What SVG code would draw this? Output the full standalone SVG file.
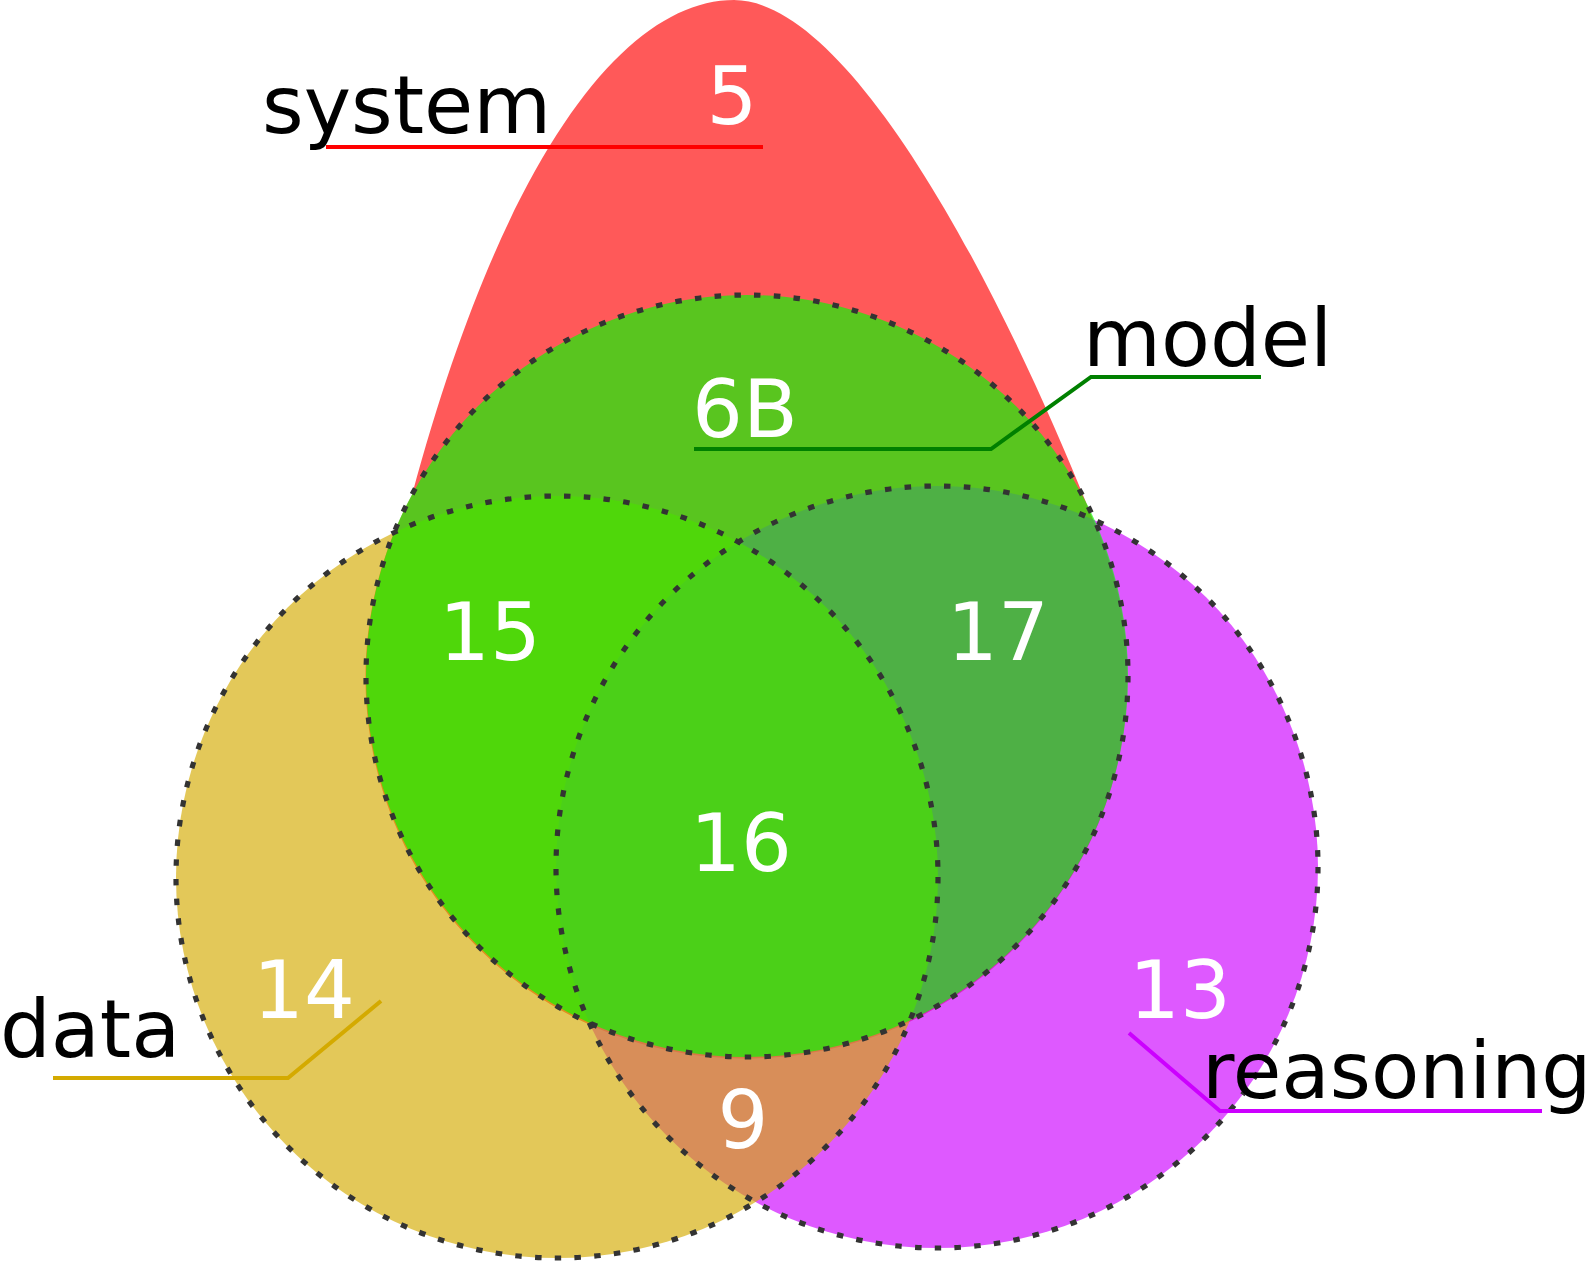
<svg xmlns="http://www.w3.org/2000/svg" width="1594" height="1262" viewBox="0 0 1594 1262">
<style>
.fill { stroke: none; opacity: 0.65; }
.outline { fill: none; stroke: #333333; stroke-width: 5.2; stroke-dasharray: 6.5 13.3; }
.label { font-family: "DejaVu Sans", Verdana, sans-serif; font-size: 80px; fill: #000000; }
.count { font-family: "DejaVu Sans", Verdana, sans-serif; font-size: 80px; fill: #ffffff; text-anchor: middle; }
.leader { fill: none; stroke-width: 4; stroke-linejoin: miter; }
</style>
<rect width="1594" height="1262" fill="#ffffff"/>
<g id="system-set">
  <path class="fill" fill="#ff0000" d="M412,495 C505,150 627,0 734,0 C844,0 988,257 1092,517 A381,381 0 1 1 412,495 Z"/>
</g>
<g id="reasoning-set">
  <circle class="fill" fill="#cc00ff" cx="937" cy="867" r="381"/>
</g>
<g id="data-set">
  <circle class="fill" fill="#d4aa00" cx="557" cy="877" r="381"/>
</g>
<g id="model-set">
  <circle class="fill" fill="#00ff00" cx="747" cy="676" r="381"/>
</g>
<g id="outlines">
  <circle class="outline" cx="937" cy="867" r="381"/>
  <circle class="outline" cx="557" cy="877" r="381"/>
  <circle class="outline" cx="747" cy="676" r="381"/>
</g>
<g id="connectors">
  <polyline class="leader" stroke="#ff0000" points="326,147 763,147"/>
  <polyline class="leader" stroke="#008000" points="694,449 991,449 1091,377 1261,377"/>
  <polyline class="leader" stroke="#d4aa00" points="53,1078 288,1078 381,1001"/>
  <polyline class="leader" stroke="#cc00ff" points="1129,1033 1220,1111 1542,1111"/>
</g>
<g id="labels">
  <text id="label-system" class="label" x="262" y="133">system</text>
  <text id="label-model" class="label" x="1083" y="366">model</text>
  <text id="label-data" class="label" x="0" y="1057">data</text>
  <text id="label-reasoning" class="label" x="1202" y="1098" style="font-size:79px">reasoning</text>
</g>
<g id="counts">
  <text class="count" x="732" y="124">5</text>
  <text class="count" x="745" y="437">6B</text>
  <text class="count" x="490" y="660">15</text>
  <text class="count" x="998" y="660">17</text>
  <text class="count" x="741" y="871">16</text>
  <text class="count" x="304" y="1018">14</text>
  <text class="count" x="743" y="1148">9</text>
  <text class="count" x="1180" y="1018">13</text>
</g>
</svg>
